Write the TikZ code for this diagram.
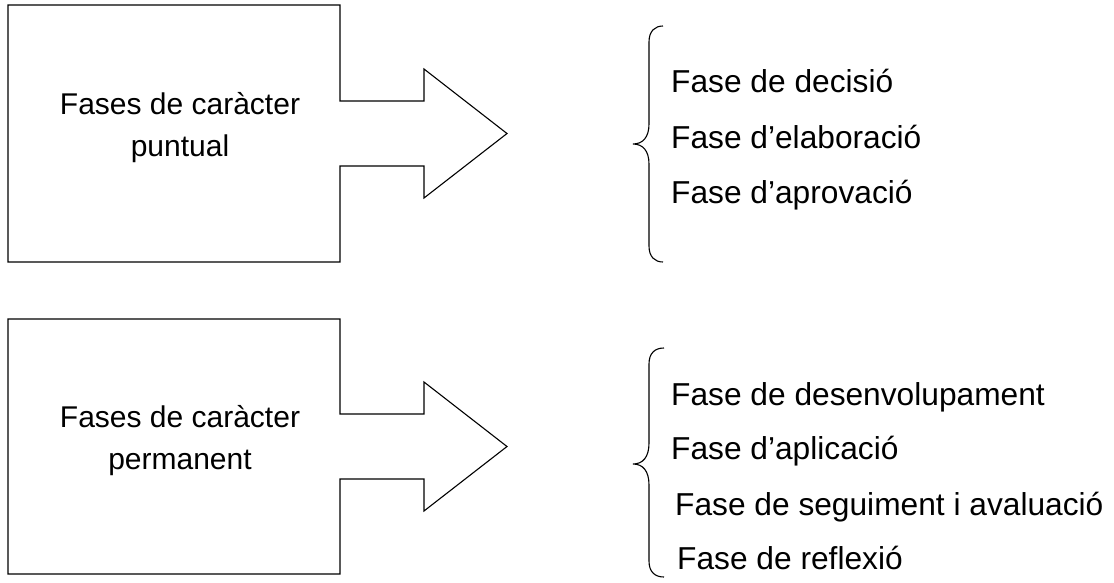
\documentclass[tikz,border=0pt]{standalone}
\usepackage{fontspec}
\setmainfont{Liberation Sans}
\usepackage{tikz}
\usetikzlibrary{positioning}
\tikzstyle{fasebox} = [rectangle,inner sep=0,outer sep=0,minimum width=332pt]
\tikzstyle{fasetext} = [align=center,inner sep=0,font=\fontsize{30}{42.5}\selectfont]
\tikzstyle{item} = [anchor=base west,inner sep=0,font=\fontsize{31.7}{36}\selectfont]
\tikzstyle{outline} = [draw=black,line width=1.1pt,line join=miter]

\begin{document}
\begin{tikzpicture}[x=1pt,y=-1pt]
  \useasboundingbox (0,0) rectangle (1114,582);

  % fases de caracter puntual
  \node [fasebox,minimum height=257pt] (b1) at (174,133.5) {};
  \node [fasetext] (t1) at (180,127.5) {Fases de caràcter\\puntual};
  \draw [outline] (b1.east) ++(0,-32.5) -- ++(84,0) -- ++(0,-32) -- ++(83,64.5)
    -- ++(-83,64.5) -- ++(0,-32) -- ++(-84,0) -- (b1.south east)
    -- (b1.south west) -- (b1.north west) -- (b1.north east) -- cycle;

  \draw [outline] (663,26) .. controls (655,26) and (649,31) .. (649,42) -- (649,124)
    .. controls (649,137) and (643,144) .. (633,144)
    .. controls (643,144) and (649,151) .. (649,164) -- (649,246)
    .. controls (649,257) and (655,262) .. (663,262);

  \node [item] (p1) at (671,92) {Fase de decisió};
  \node [item] (p2) at (671,148) {Fase d’elaboració};
  \node [item] (p3) at (671,203) {Fase d’aprovació};

  % fases de caracter permanent
  \node [fasebox,minimum height=255pt] (b2) at (174,446.5) {};
  \node [fasetext] (t2) at (180,440.5) {Fases de caràcter\\permanent};
  \draw [outline] (b2.east) ++(0,-32.5) -- ++(84,0) -- ++(0,-32) -- ++(83,64.5)
    -- ++(-83,64.5) -- ++(0,-32) -- ++(-84,0) -- (b2.south east)
    -- (b2.south west) -- (b2.north west) -- (b2.north east) -- cycle;

  \draw [outline] (664,348) .. controls (655,348) and (649,353) .. (649,364) -- (649,443)
    .. controls (649,457) and (643,464) .. (633,464)
    .. controls (643,464) and (649,471) .. (649,485) -- (649,561)
    .. controls (649,572) and (655,577) .. (664,577);

  \node [item] (q1) at (671,405) {Fase de desenvolupament};
  \node [item] (q2) at (671,459) {Fase d’aplicació};
  \node [item] (q3) at (675,515) {Fase de seguiment i avaluació};
  \node [item] (q4) at (677,569) {Fase de reflexió};
\end{tikzpicture}
\end{document}
